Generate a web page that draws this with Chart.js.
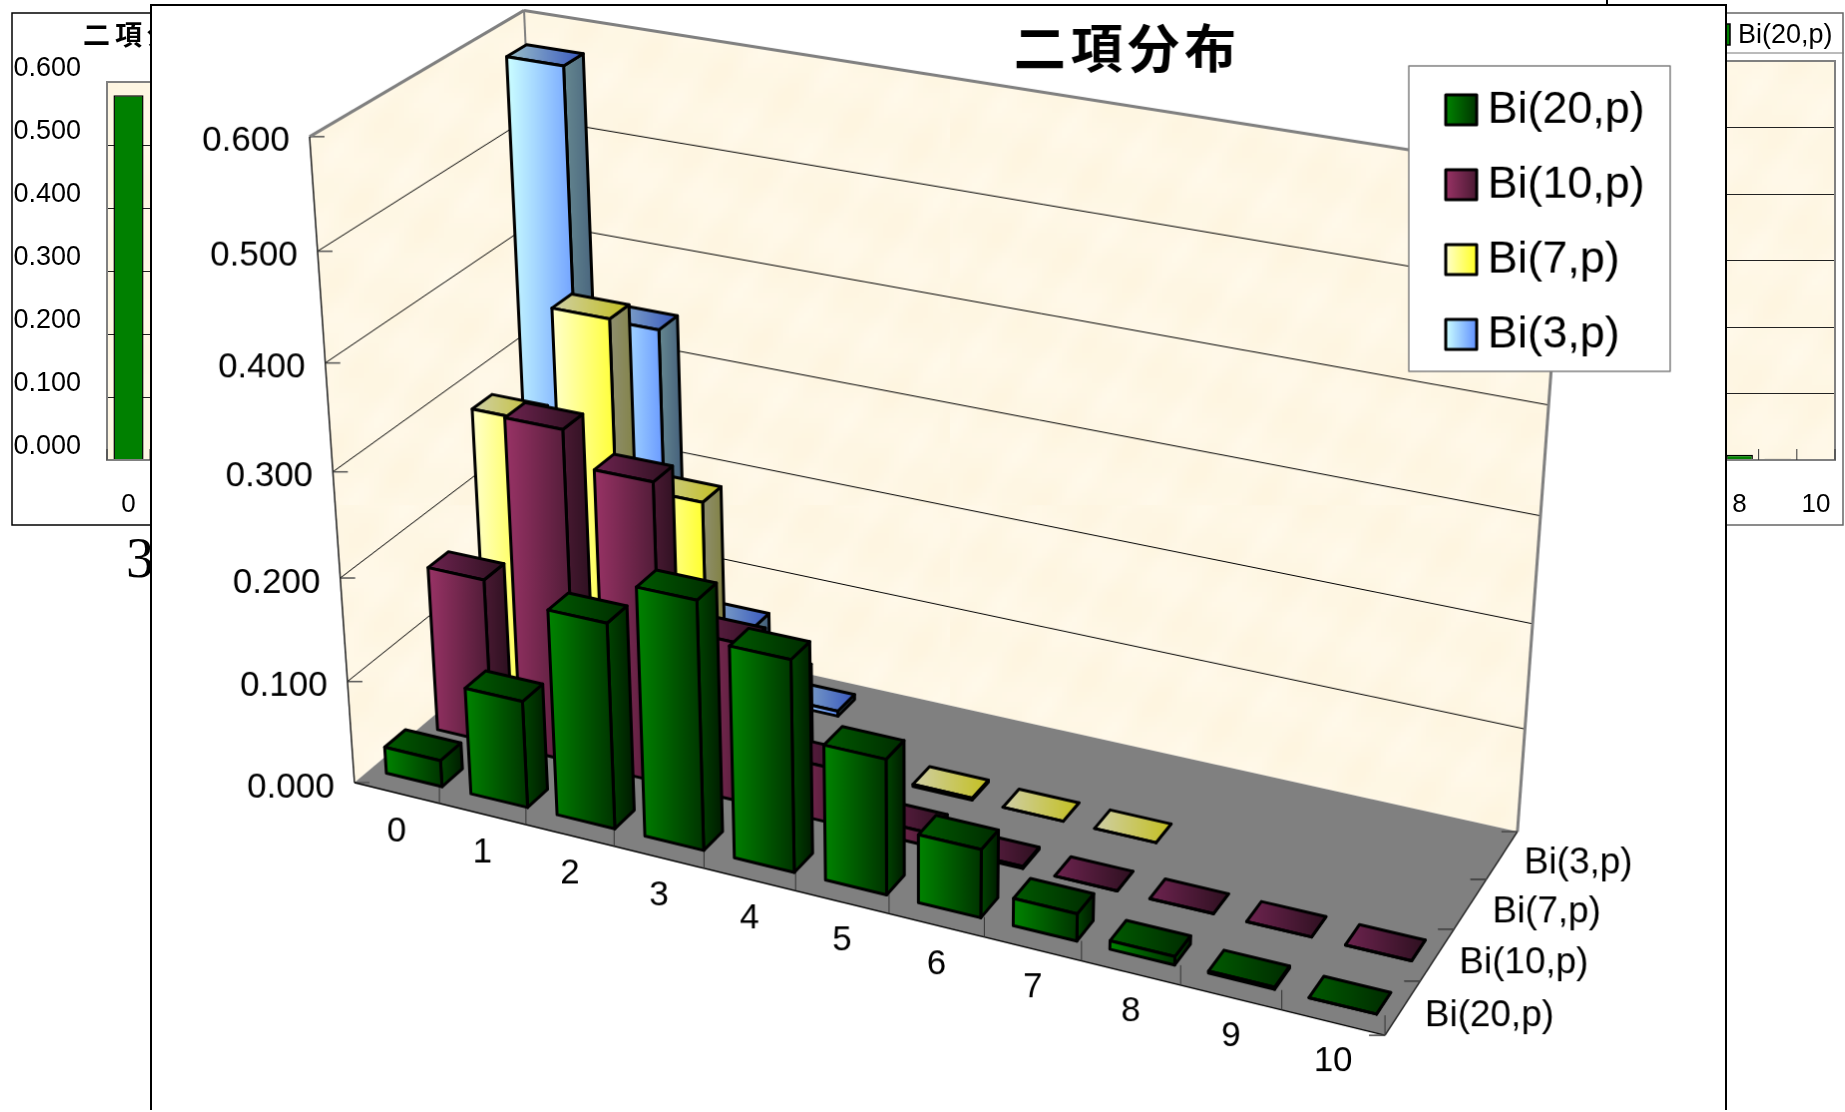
<!DOCTYPE html>
<html>
<head>
<meta charset="utf-8">
<title>二項分布</title>
<script src="https://cdn.jsdelivr.net/npm/chart.js@4"></script>
<style>
html, body { margin: 0; padding: 0; background: #fff; width: 1845px; height: 1112px; overflow: hidden; }
canvas { position: absolute; display: block; }
#leftChart { left: 11px; top: 12px; }
#rightChart { left: 1300px; top: 12px; }
#mainChart { left: 150px; top: 4px; background: #fff; border: 2px solid #000; border-bottom: none; }
#pageNo { position: absolute; left: 126px; top: 526px; font: 56px "Liberation Serif"; color: #000; }
#topMark { position: absolute; left: 1606px; top: 0; width: 2px; height: 5px; background: #000; }
</style>
</head>
<body>
<div id="pageNo">3</div>
<div id="topMark"></div>
<canvas id="leftChart" width="640" height="514"></canvas>
<canvas id="rightChart" width="544" height="514"></canvas>
<canvas id="mainChart" width="1577" height="1106"></canvas>
<script>
var chartTitle = '二項分布';
var categories = ['0', '1', '2', '3', '4', '5', '6', '7', '8', '9', '10'];
var seriesNames = ['Bi(20,p)', 'Bi(10,p)', 'Bi(7,p)', 'Bi(3,p)'];
var bi20 = [0.026, 0.104, 0.198, 0.238, 0.202, 0.129, 0.065, 0.026, 0.008, 0.002, 0.000];
var bi10 = [0.162, 0.323, 0.291, 0.155, 0.054, 0.013, 0.002, 0.000, 0.000, 0.000, 0.000];
var bi7 = [0.279, 0.391, 0.234, 0.078, 0.016, 0.002, 0.000, 0.000, null, null, null];
var bi3 = [0.579, 0.347, 0.069, 0.005, null, null, null, null, null, null, null];
var axisMax = 0.6;
var axisStep = 0.1;

var lineGray = '#808080';
var sansFont = '"Liberation Sans"';
var cjkFont = '"Noto Sans CJK JP"';

// face colours of each series: [left, right] of the gradient
var faceColors = [
    { front: ['#008400', '#003400'], side: ['#004400', '#001c00'], top: ['#005a00', '#002c00'] },
    { front: ['#993366', '#4a1a33'], side: ['#4a1a33', '#2a0f1e'], top: ['#6e2450', '#2e1020'] },
    { front: ['#ffffcc', '#ffff22'], side: ['#8f8f70', '#80803c'], top: ['#cfcfa8', '#c4c020'] },
    { front: ['#ccffff', '#6090ff'], side: ['#668890', '#3e5878'], top: ['#9cc0c8', '#3858c0'] }
];

// the box of the 3D plot on the page: u along categories, v along series, w along values
var boxCorners = [
    [0, 0, 0, 355, 783],
    [1, 0, 0, 1388, 1038],
    [1, 1, 0, 1521, 832],
    [0, 1, 0, 552, 619],
    [0, 0, 1, 310, 137],
    [0, 1, 1, 525, 10],
    [1, 1, 1, 1569, 175]
];

function fitCamera(points) {
    var n = 11, m = [], i, j, k;
    for (i = 0; i < n; i++) {
        m.push(new Array(n + 1).fill(0));
    }
    function addRow(row, rhs) {
        for (i = 0; i < n; i++) {
            for (j = 0; j < n; j++) m[i][j] += row[i] * row[j];
            m[i][n] += row[i] * rhs;
        }
    }
    points.forEach(function (p) {
        addRow([p[0], p[1], p[2], 1, 0, 0, 0, 0, -p[3] * p[0], -p[3] * p[1], -p[3] * p[2]], p[3]);
        addRow([0, 0, 0, 0, p[0], p[1], p[2], 1, -p[4] * p[0], -p[4] * p[1], -p[4] * p[2]], p[4]);
    });
    for (k = 0; k < n; k++) {
        var best = k;
        for (i = k + 1; i < n; i++) if (Math.abs(m[i][k]) > Math.abs(m[best][k])) best = i;
        var t = m[k]; m[k] = m[best]; m[best] = t;
        for (i = 0; i < n; i++) {
            if (i === k) continue;
            var f = m[i][k] / m[k][k];
            for (j = k; j <= n; j++) m[i][j] -= f * m[k][j];
        }
    }
    return m.map(function (r, idx) { return r[n] / r[idx]; });
}

var cam = fitCamera(boxCorners);
var originX = 152, originY = 6;

function project(u, v, w) {
    var d = cam[8] * u + cam[9] * v + cam[10] * w + 1;
    return {
        x: (cam[0] * u + cam[1] * v + cam[2] * w + cam[3]) / d - originX,
        y: (cam[4] * u + cam[5] * v + cam[6] * w + cam[7]) / d - originY
    };
}

// bars sit a little inside the walls' category span
function barU(u) {
    return 0.002 + u * 0.9965;
}

// faint paper mottling of the walls
var wallTexture = (function () {
    var small = document.createElement('canvas');
    small.width = 160; small.height = 100;
    var sc = small.getContext('2d');
    for (var y = 0; y < 100; y++) {
        for (var x = 0; x < 160; x++) {
            var n = Math.sin(x * 0.41 + y * 0.17) + Math.sin(x * 0.13 - y * 0.37 + 1.3) + Math.sin(x * 0.73 + y * 0.59 + 2.1) * 0.6;
            var a = 0.5 + n / 5.2;
            sc.fillStyle = 'rgb(' + Math.round(254 + a) + ',' + Math.round(245 + a * 4) + ',' + Math.round(224 + a * 10) + ')';
            sc.fillRect(x, y, 1, 1);
        }
    }
    var big = document.createElement('canvas');
    big.width = 800; big.height = 500;
    var bc = big.getContext('2d');
    bc.imageSmoothingEnabled = true;
    bc.drawImage(small, 0, 0, 800, 500);
    return big;
})();

function polygon(ctx, pts) {
    ctx.beginPath();
    pts.forEach(function (p, i) {
        if (i === 0) ctx.moveTo(p.x, p.y); else ctx.lineTo(p.x, p.y);
    });
    ctx.closePath();
}

function segment(ctx, a, b, color, width) {
    ctx.strokeStyle = color;
    ctx.lineWidth = width;
    ctx.beginPath();
    ctx.moveTo(a.x, a.y);
    ctx.lineTo(b.x, b.y);
    ctx.stroke();
}

function face(ctx, pts, colors) {
    var xs = pts.map(function (p) { return p.x; });
    var g = ctx.createLinearGradient(Math.min.apply(null, xs), 0, Math.max.apply(null, xs), 0);
    g.addColorStop(0, colors[0]);
    g.addColorStop(1, colors[1]);
    polygon(ctx, pts);
    ctx.fillStyle = g;
    ctx.fill();
    ctx.strokeStyle = '#000';
    ctx.lineWidth = 3;
    ctx.lineJoin = 'round';
    ctx.stroke();
}

function drawWalls(chart) {
    var ctx = chart.ctx;
    var yScale = chart.scales.y;
    var a = project(0, 0, 0), b = project(1, 0, 0), c = project(1, 1, 0), d = project(0, 1, 0);
    var f = project(0, 0, 1), g = project(0, 1, 1), e = project(1, 1, 1);

    ctx.fillStyle = ctx.createPattern(wallTexture, 'repeat');
    polygon(ctx, [a, f, g, d]); ctx.fill();
    polygon(ctx, [d, g, e, c]); ctx.fill();
    ctx.fillStyle = lineGray;
    polygon(ctx, [a, b, c, d]); ctx.fill();

    // value gridlines, ticks and labels
    ctx.font = '35px ' + sansFont;
    ctx.textAlign = 'right';
    ctx.textBaseline = 'middle';
    yScale.ticks.forEach(function (t) {
        var w = (yScale.bottom - yScale.getPixelForValue(t.value)) / yScale.height;
        var p0 = project(0, 0, w), p1 = project(0, 1, w), p2 = project(1, 1, w);
        if (t.value > 0) {
            segment(ctx, p0, p1, '#000', 1);
            segment(ctx, p1, p2, '#000', 1);
        }
        segment(ctx, p0, { x: p0.x + 15, y: p0.y }, '#555', 1.5);
        ctx.fillStyle = '#000';
        ctx.fillText(t.value.toFixed(3), p0.x - 20, p0.y + 5);
    });

    segment(ctx, f, g, lineGray, 3);
    segment(ctx, g, e, lineGray, 3);
    segment(ctx, e, c, lineGray, 3);
    segment(ctx, g, d, lineGray, 2);
    segment(ctx, a, f, '#222', 1.5);
    segment(ctx, a, b, '#000', 1.5);
    segment(ctx, b, c, '#222', 1.5);

    // category ticks and labels on the front edge
    var xScale = chart.scales.x;
    var cw = 1 / categories.length;
    ctx.textAlign = 'center';
    categories.forEach(function (label, i) {
        var u = (xScale.getPixelForValue(i) - xScale.left) / xScale.width;
        var p = project(u, 0, 0);
        ctx.fillStyle = '#000';
        ctx.fillText(label, p.x, p.y + 39);
        var q = project(u + cw / 2, 0, 0);
        segment(ctx, q, { x: q.x, y: q.y - 20 }, '#333', 1);
    });

    // series ticks and labels on the right edge
    var zScale = chart.scales.z;
    var sw = 1 / seriesNames.length;
    ctx.font = '37px ' + sansFont;
    ctx.textAlign = 'left';
    seriesNames.forEach(function (label, i) {
        var v = (zScale.getPixelForValue(i) - zScale.left) / zScale.width;
        var p = project(1, v, 0);
        ctx.fillStyle = '#000';
        ctx.fillText(label, p.x + 22, p.y + 8);
        var q0 = project(1, v - sw / 2, 0), q1 = project(1, v + sw / 2, 0);
        segment(ctx, q0, { x: q0.x - 16, y: q0.y }, '#444', 1.5);
        segment(ctx, q1, { x: q1.x - 16, y: q1.y }, '#444', 1.5);
    });
}

// series sit front to back on the z scale; the back ones are drawn first so nearer bars cover them
function drawBars(chart) {
    var ctx = chart.ctx;
    var area = chart.chartArea;
    var zScale = chart.scales.z;
    var depth = 0.4 / seriesNames.length;
    for (var s = chart.data.datasets.length - 1; s >= 0; s--) {
        var ds = chart.data.datasets[s];
        var colors = faceColors[s];
        var v = (zScale.getPixelForValue(s) - zScale.left) / zScale.width;
        var v0 = v - depth / 2, v1 = v + depth / 2;
        chart.getDatasetMeta(s).data.forEach(function (el, i) {
            if (ds.data[i] === null) return;
            var u0 = barU((el.x - el.width / 2 - area.left) / area.width);
            var u1 = barU((el.x + el.width / 2 - area.left) / area.width);
            var h = (el.base - el.y) / area.height;
            face(ctx, [project(u1, v0, 0), project(u1, v1, 0), project(u1, v1, h), project(u1, v0, h)], colors.side);
            face(ctx, [project(u0, v0, h), project(u1, v0, h), project(u1, v1, h), project(u0, v1, h)], colors.top);
            face(ctx, [project(u0, v0, 0), project(u1, v0, 0), project(u1, v0, h), project(u0, v0, h)], colors.front);
        });
    }
}

function drawTitleAndLegend(chart) {
    var ctx = chart.ctx;
    ctx.fillStyle = '#000';
    ctx.font = 'bold 52px ' + cjkFont;
    ctx.letterSpacing = '5px';
    ctx.textAlign = 'left';
    ctx.textBaseline = 'middle';
    ctx.fillText(chartTitle, 1016 - originX, 48 - originY);
    ctx.letterSpacing = '0px';

    var lx = 1412 - originX, ly = 66 - originY;
    ctx.fillStyle = '#fff';
    ctx.fillRect(lx, ly, 262, 306);
    ctx.strokeStyle = lineGray;
    ctx.lineWidth = 1.5;
    ctx.strokeRect(lx, ly, 262, 306);
    ctx.font = '45px ' + sansFont;
    ctx.textAlign = 'left';
    var rowY = [110, 185, 260, 335];
    chart.data.datasets.forEach(function (ds, s) {
        var y = rowY[s] - originY;
        var sx = 1449 - originX;
        var g = ctx.createLinearGradient(sx, 0, sx + 31, 0);
        g.addColorStop(0, faceColors[s].front[0]);
        g.addColorStop(1, faceColors[s].front[1]);
        ctx.fillStyle = g;
        ctx.fillRect(sx, y - 15, 31, 30);
        ctx.strokeStyle = '#000';
        ctx.lineWidth = 3;
        ctx.strokeRect(sx, y - 15, 31, 30);
        ctx.fillStyle = '#000';
        ctx.fillText(ds.label, 1491 - originX, y + 1);
    });
}

var mainChart = new Chart(document.getElementById('mainChart').getContext('2d'), {
    type: 'bar',
    data: {
        labels: categories,
        datasets: [
            { label: seriesNames[0], data: bi20 },
            { label: seriesNames[1], data: bi10 },
            { label: seriesNames[2], data: bi7 },
            { label: seriesNames[3], data: bi3 }
        ]
    },
    plugins: [{
        id: 'bar3d',
        beforeDatasetsDraw: function (chart) {
            drawWalls(chart);
            drawBars(chart);
            drawTitleAndLegend(chart);
            return false;
        }
    }],
    options: {
        responsive: false,
        animation: false,
        plugins: { legend: { display: false }, title: { display: false }, tooltip: { enabled: false } },
        datasets: { bar: { grouped: false, categoryPercentage: 1, barPercentage: 0.66 } },
        scales: {
            x: { display: false },
            y: { display: false, min: 0, max: axisMax, ticks: { stepSize: axisStep } },
            z: { display: false, type: 'category', axis: 'x', position: 'bottom', labels: seriesNames, offset: true }
        }
    }
});

// the two small charts behind the big one
function sideChart(id, values, opts) {
    return new Chart(document.getElementById(id).getContext('2d'), {
        type: 'bar',
        data: { labels: categories, datasets: [{ label: seriesNames[0], data: values, backgroundColor: '#008000', borderColor: '#000', borderWidth: 1.5 }] },
        plugins: [{
            id: 'sideFrame',
            beforeDraw: function (chart) {
                var ctx = chart.ctx, a = chart.chartArea;
                ctx.fillStyle = '#fff';
                ctx.fillRect(0, 0, chart.width, chart.height);
                ctx.strokeStyle = opts.frameColor;
                ctx.lineWidth = 1.5;
                ctx.strokeRect(1, 1, chart.width - 2, chart.height - 2);
                ctx.fillStyle = ctx.createPattern(wallTexture, 'repeat');
                ctx.fillRect(a.left, a.top, a.width, a.height);
                opts.decorate(chart);
            },
            afterDraw: function (chart) {
                var ctx = chart.ctx, a = chart.chartArea;
                ctx.strokeStyle = lineGray;
                ctx.lineWidth = 2;
                ctx.strokeRect(a.left, a.top, a.width, a.height);
                ctx.strokeStyle = '#333';
                ctx.lineWidth = 1;
                for (var i = 0; i <= categories.length; i++) {
                    var x = a.left + i * a.width / categories.length;
                    ctx.beginPath();
                    ctx.moveTo(x, a.bottom);
                    ctx.lineTo(x, a.bottom - 11);
                    ctx.stroke();
                }
            }
        }],
        options: {
            responsive: false,
            animation: false,
            layout: { padding: opts.padding },
            plugins: { legend: { display: false }, title: { display: false }, tooltip: { enabled: false } },
            datasets: { bar: { categoryPercentage: 1, barPercentage: 0.7 } },
            scales: {
                x: {
                    grid: { display: false },
                    border: { display: false },
                    ticks: { font: { family: 'Liberation Sans', size: 26 }, color: '#000', maxRotation: 0, autoSkip: false, padding: 21,
                        callback: function (v, i) { return i % 2 === 0 ? categories[i] : ''; } },
                    afterFit: function (s) { s.height = opts.bottom; s.paddingLeft = 0; s.paddingRight = 0; }
                },
                y: {
                    min: 0, max: axisMax,
                    grid: { color: '#222', lineWidth: 1, drawTicks: false },
                    border: { display: false },
                    ticks: { stepSize: axisStep, font: { family: 'Liberation Sans', size: 27 }, color: '#000', padding: 26, labelOffset: -13,
                        callback: function (v) { return v.toFixed(3); } },
                    afterFit: function (s) { s.width = opts.left; s.paddingTop = 0; s.paddingBottom = 0; }
                }
            }
        }
    });
}

sideChart('leftChart', bi3, {
    frameColor: '#000',
    left: 96, bottom: 66,
    padding: { top: 70, right: 71, left: 0, bottom: 0 },
    decorate: function (chart) {
        var ctx = chart.ctx;
        ctx.fillStyle = '#000';
        ctx.font = 'bold 27px ' + cjkFont;
        ctx.letterSpacing = '5px';
        ctx.textAlign = 'left';
        ctx.textBaseline = 'middle';
        ctx.fillText(chartTitle, 72, 23);
        ctx.letterSpacing = '0px';
    }
});

sideChart('rightChart', bi20, {
    frameColor: '#666',
    left: 115, bottom: 66,
    padding: { top: 49, right: 9, left: 0, bottom: 0 },
    decorate: function (chart) {
        var ctx = chart.ctx;
        ctx.strokeStyle = '#777';
        ctx.lineWidth = 1;
        ctx.beginPath();
        ctx.moveTo(0, 41);
        ctx.lineTo(chart.width, 41);
        ctx.stroke();
        ctx.fillStyle = '#008000';
        ctx.fillRect(420, 12, 10, 21);
        ctx.strokeStyle = '#000';
        ctx.lineWidth = 1.5;
        ctx.strokeRect(420, 12, 10, 21);
        ctx.fillStyle = '#000';
        ctx.font = '27px ' + sansFont;
        ctx.textAlign = 'left';
        ctx.textBaseline = 'middle';
        ctx.fillText(seriesNames[0], 438, 24);
    }
});
</script>
</body>
</html>
